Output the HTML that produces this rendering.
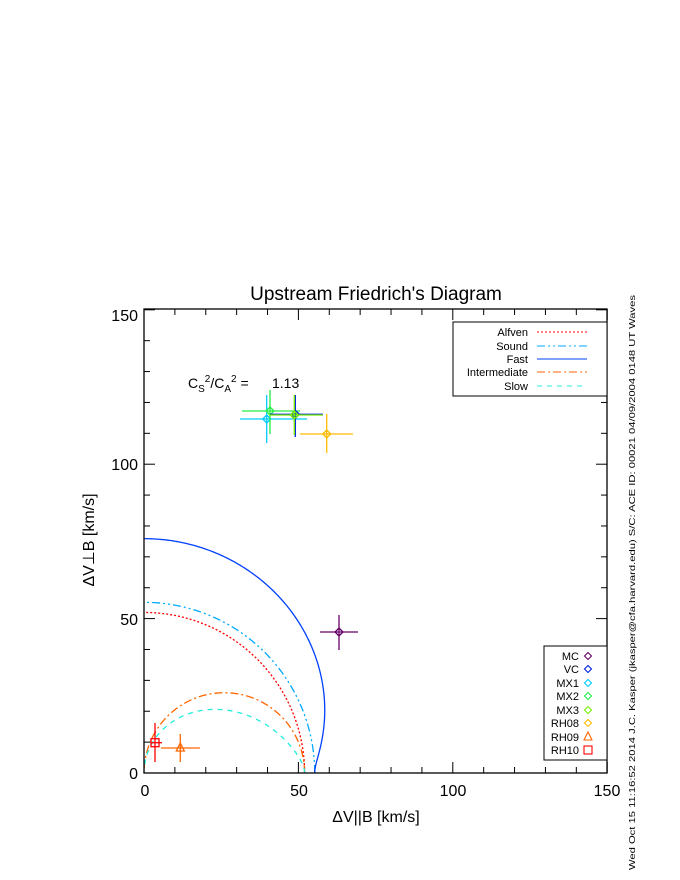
<!DOCTYPE html>
<html><head><meta charset="utf-8"><style>
html,body{margin:0;padding:0;background:#fff;}
svg{display:block;font-family:"Liberation Sans",sans-serif;}
</style></head><body>
<svg id="s" width="680" height="880" xmlns="http://www.w3.org/2000/svg">
<rect width="680" height="880" fill="#fff"/>
<text x="376" y="300" font-size="19" text-anchor="middle">Upstream Friedrich's Diagram</text>
<g id="curves" fill="none" stroke-width="1.3"></g>
<rect x="144" y="309" width="463" height="464" fill="none" stroke="#000" stroke-width="1.3"/>
<g id="ticks" stroke="#000" stroke-width="1"></g>
<g font-size="16" text-anchor="middle">
<text x="145" y="796">0</text><text x="299" y="796">50</text><text x="453" y="796">100</text><text x="607" y="796">150</text>
</g>
<g font-size="16" text-anchor="end">
<text x="138" y="779">0</text><text x="138" y="625">50</text><text x="138" y="470">100</text><text x="138" y="321">150</text>
</g>
<text x="376" y="822" font-size="16" text-anchor="middle">ΔV||B [km/s]</text>
<text transform="translate(94,540) rotate(-90)" font-size="16" text-anchor="middle">ΔV⊥B [km/s]</text>
<text x="188" y="388" font-size="14">C<tspan font-size="10" dy="4">S</tspan><tspan font-size="10" dy="-10">2</tspan><tspan dy="6">/C</tspan><tspan font-size="10" dy="4">A</tspan><tspan font-size="10" dy="-10">2</tspan><tspan dy="6"> =&#160;&#160;&#160;&#160;&#160; 1.13</tspan></text>
<g id="data" fill="none" stroke-width="1.3"></g>
<!-- legend 1 -->
<rect x="453" y="322" width="154" height="74" fill="#fff" stroke="#000"/>
<g font-size="11" text-anchor="end">
<text x="528" y="336">Alfven</text><text x="528" y="350">Sound</text><text x="528" y="363">Fast</text><text x="528" y="376">Intermediate</text><text x="528" y="390">Slow</text>
</g>
<line x1="537" y1="332" x2="587" y2="332" stroke="#f00" stroke-dasharray="2,2"/>
<line x1="537" y1="346" x2="587" y2="346" stroke="#0af" stroke-dasharray="8,3,2,3,2,3"/>
<line x1="537" y1="359" x2="587" y2="359" stroke="#0040ff"/>
<line x1="537" y1="372" x2="587" y2="372" stroke="#f60" stroke-dasharray="8,3,2,3"/>
<line x1="537" y1="386" x2="587" y2="386" stroke="#2ed" stroke-dasharray="5,5"/>
<!-- legend 2 -->
<rect x="544" y="646" width="63" height="114" fill="#fff" stroke="#000"/>
<g font-size="11" text-anchor="end">
<text x="579" y="660">MC</text><text x="579" y="673">VC</text><text x="579" y="687">MX1</text><text x="579" y="700">MX2</text><text x="579" y="714">MX3</text><text x="579" y="727">RH08</text><text x="579" y="741">RH09</text><text x="579" y="754">RH10</text>
</g>
<g id="leg2" fill="none" stroke-width="1.1"></g>
<text transform="translate(635,870) rotate(-90)" font-size="8.2" textLength="575" lengthAdjust="spacingAndGlyphs">Wed Oct 15 11:16:52 2014  J.C. Kasper (jkasper@cfa.harvard.edu)  S/C: ACE ID: 00021 04/09/2004  0148 UT Waves</text>
</svg>
<script>
var NS="http://www.w3.org/2000/svg";
function el(p,t,a){var e=document.createElementNS(NS,t);for(var k in a)e.setAttribute(k,a[k]);document.getElementById(p).appendChild(e);return e;}
var X0=144,Y0=773,S=3.088;
function px(x){return X0+x*S;}function py(y){return Y0-y*S;}
// ticks
for(var v=0;v<=150;v+=10){var L=(v%50==0)?11:6;
el("ticks","line",{x1:px(v),y1:773,x2:px(v),y2:773-L});
el("ticks","line",{x1:px(v),y1:309,x2:px(v),y2:309+L});
el("ticks","line",{x1:144,y1:py(v),x2:144+L,y2:py(v)});
el("ticks","line",{x1:607,y1:py(v),x2:607-L,y2:py(v)});}
var cA=52,r=1.13;
function path(f,col,dash){var d="";for(var i=0;i<=200;i++){var th=i/200*Math.PI/2;var p=f(th);d+=(i?"L":"M")+px(p[0]).toFixed(2)+","+py(p[1]).toFixed(2);}
var a={d:d,stroke:col};if(dash)a["stroke-dasharray"]=dash;el("curves","path",a);}
function fs(th,sg){var c=Math.cos(th),s=1+r,disc=Math.sqrt(s*s-4*r*c*c);return cA*Math.sqrt(0.5*(s+sg*disc));}
path(function(t){return [52*Math.cos(t),52*Math.sin(t)];},"#f00","2,2");
path(function(t){var R=cA*Math.sqrt(r);return [R*Math.cos(t),R*Math.sin(t)];},"#0af","8,3,2,3,2,3");
path(function(t){var v=fs(t,1);return [v*Math.cos(t),v*Math.sin(t)];},"#0040ff");
path(function(t){var v=cA*Math.cos(t);return [v*Math.cos(t),v*Math.sin(t)];},"#f60","8,3,2,3");
path(function(t){var v=fs(t,-1);return [v*Math.cos(t),v*Math.sin(t)];},"#2ed","5,5");
function dia(g,x,y,c,s){el(g,"path",{d:"M"+x+","+(y-s)+"L"+(x+s)+","+y+"L"+x+","+(y+s)+"L"+(x-s)+","+y+"Z",stroke:c});}
function pt(x,y,x1,x2,y1,y2,c,sym){el("data","line",{x1:x1,y1:y,x2:x2,y2:y,stroke:c});el("data","line",{x1:x,y1:y1,x2:x,y2:y2,stroke:c});
if(sym=="d")dia("data",x,y,c,4);else if(sym=="t")el("data","path",{d:"M"+x+","+(y-5)+"L"+(x+4)+","+(y+3)+"L"+(x-4)+","+(y+3)+"Z",stroke:c});
else el("data","rect",{x:x-4,y:y-4,width:8,height:8,stroke:c});}
pt(339,632,320,358,615,650,"#606","d");
pt(266.7,419,240,307,395,443,"#0cf","d");
pt(270,411,242,300,390,434,"#2e4","d");
pt(295.3,414.3,270,323,395,437,"#0020e0","d");
pt(294.3,415,269,323,395,435,"#7e0","d");
pt(326.7,434,300,353,414,453,"#fb0","d");
pt(180.3,748,161,200,734,762,"#f60","t");
pt(155,742.7,151,162,723,762,"#f00","s");
var cols=["#606","#0020e0","#0cf","#2e4","#7e0","#fb0"],ys=[656,669,683,696,710,723];
for(var i=0;i<6;i++)dia("leg2",588,ys[i],cols[i],3.5);
el("leg2","path",{d:"M588,732L592,740L584,740Z",stroke:"#f60"});
el("leg2","rect",{x:584,y:746,width:8,height:8,stroke:"#f00"});
</script>
</body></html>
